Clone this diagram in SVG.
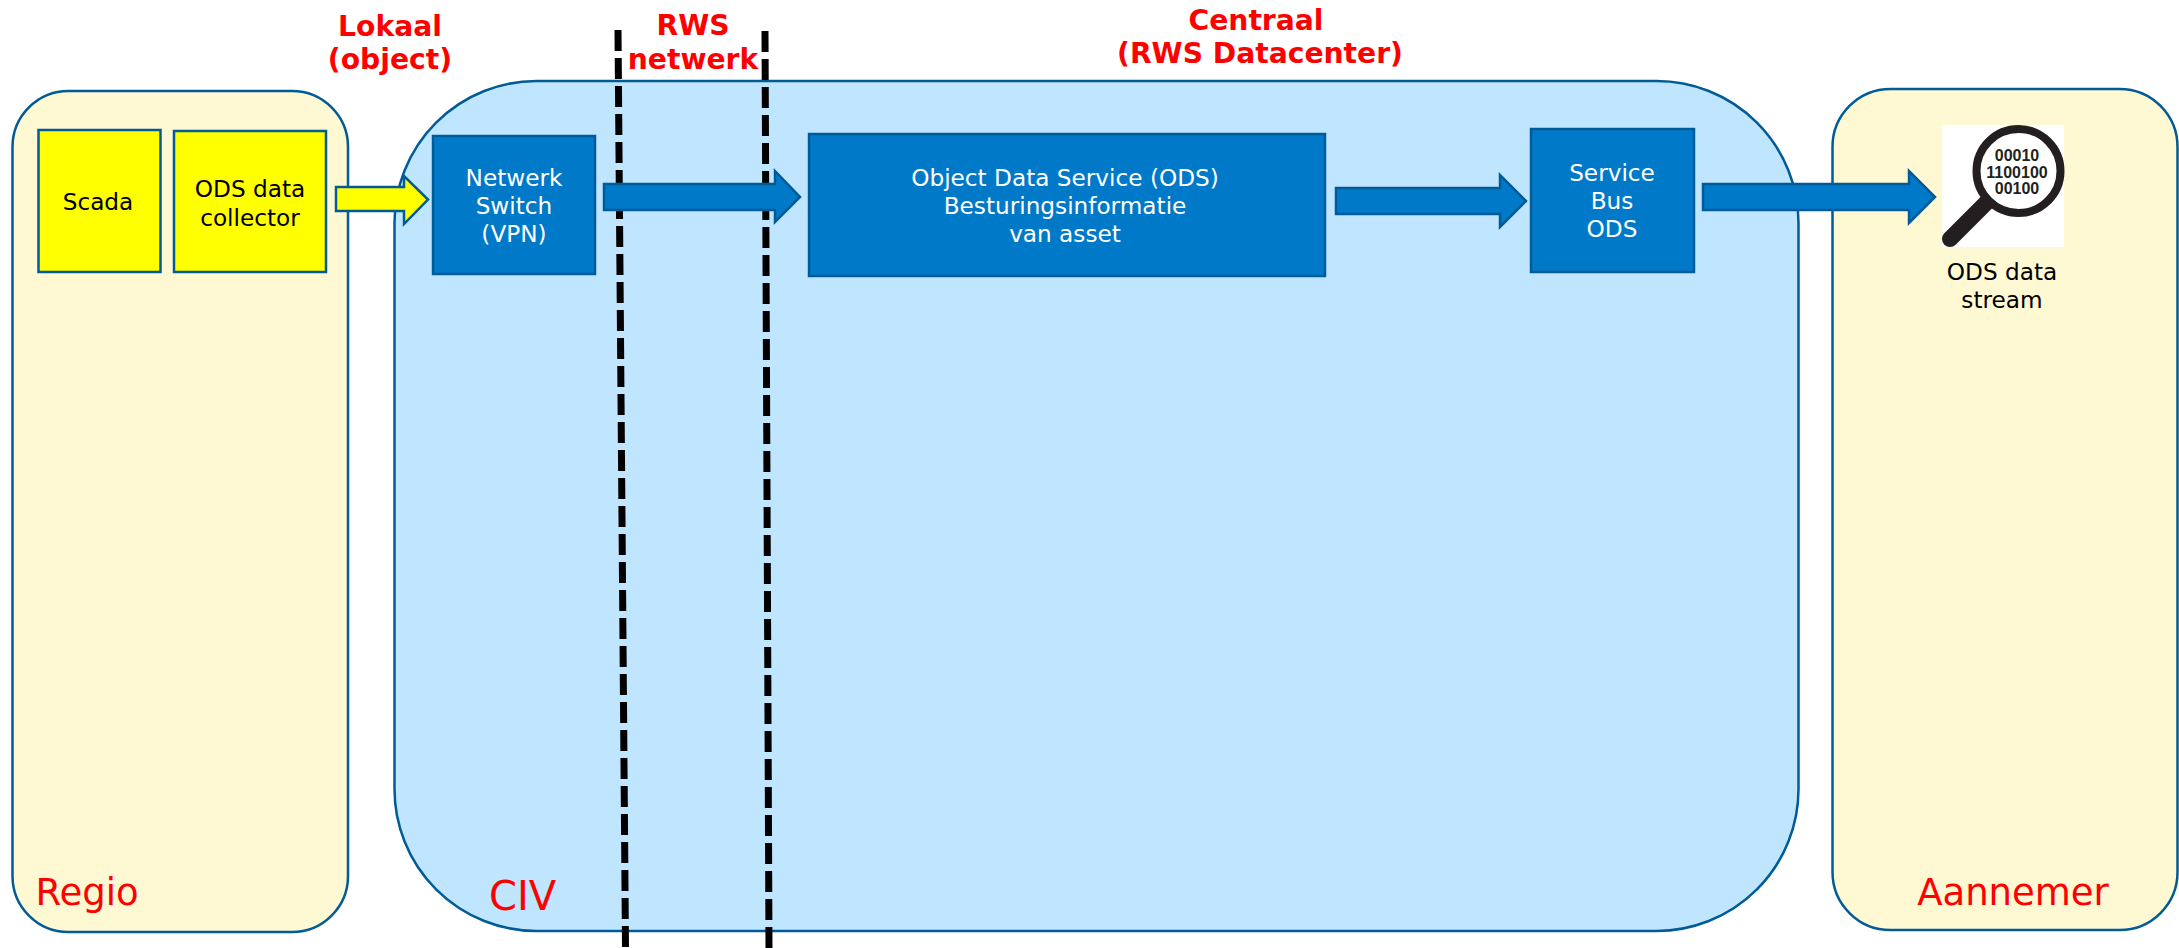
<svg xmlns="http://www.w3.org/2000/svg" width="2179" height="948" viewBox="0 0 2179 948">
<style>
text{font-family:"DejaVu Sans",Verdana,sans-serif;text-anchor:middle}
.zone{stroke:#005b96;stroke-width:2.5}
.cream{fill:#fef8d3}
.sky{fill:#c0e6ff}
.blue{fill:#0079c9;stroke:#005b96;stroke-width:2.5}
.yel{fill:#ffff00;stroke:#005b96;stroke-width:2.5}
.w{fill:#fff;font-size:23.2px}
.k{fill:#000;font-size:23.2px}
.rb{fill:#f00;font-size:28.200px;font-weight:bold}
.r{fill:#f00;font-size:37px}
.dash{stroke:#000;stroke-width:7;stroke-dasharray:21 7;fill:none}
.bin{fill:#231f20;font-family:"Liberation Sans",Arial,sans-serif;font-size:16px;font-weight:bold}
</style>
<g id="zone-regio"><rect class="zone cream" x="12.500" y="91" width="335.500" height="841" rx="56" ry="56"/><text class="r" x="87" y="905">Regio</text></g>
<g id="zone-civ"><rect class="zone sky" x="394.500" y="81" width="1404" height="850" rx="142" ry="142"/><text class="r" x="522.500" y="910" style="font-size:40px">CIV</text></g>
<g id="zone-aannemer"><rect class="zone cream" x="1832.500" y="89" width="345" height="841" rx="58" ry="58"/><text class="r" x="2013" y="905">Aannemer</text></g>
<g id="node-scada"><rect class="yel" x="38.500" y="130" width="122" height="142"/><text class="k" x="98" y="210">Scada</text></g>
<g id="node-collector"><rect class="yel" x="174" y="131" width="152" height="141"/><text class="k" x="250" y="197">ODS data</text><text class="k" x="250" y="226">collector</text></g>
<g id="node-switch"><rect class="blue" x="433" y="136" width="162" height="138"/><text class="w" x="514" y="186">Netwerk</text><text class="w" x="514" y="214">Switch</text><text class="w" x="514" y="242">(VPN)</text></g>
<g id="node-ods"><rect class="blue" x="809" y="134" width="516" height="142"/><text class="w" x="1065" y="186">Object Data Service (ODS)</text><text class="w" x="1065" y="214">Besturingsinformatie</text><text class="w" x="1065" y="242">van asset</text></g>
<g id="node-bus"><rect class="blue" x="1531" y="129" width="163" height="143"/><text class="w" x="1612" y="181">Service</text><text class="w" x="1612" y="209">Bus</text><text class="w" x="1612" y="237">ODS</text></g>
<g id="node-stream"><rect x="1942" y="125" width="122" height="122" fill="#fff"/><path d="M1986 203L1950 239" fill="none" stroke="#231f20" stroke-width="16" stroke-linecap="round"/><circle cx="2018.500" cy="171" r="42" fill="#fff" stroke="#231f20" stroke-width="8"/><text class="bin" x="2017" y="161">00010</text><text class="bin" x="2017" y="178">1100100</text><text class="bin" x="2017" y="194">00100</text><text class="k" x="2002" y="280">ODS data</text><text class="k" x="2002" y="308">stream</text></g>
<g id="labels"><text class="rb" x="390" y="36">Lokaal</text><text class="rb" x="390" y="69">(object)</text><text class="rb" x="693" y="35">RWS</text><text class="rb" x="693" y="69">netwerk</text><text class="rb" x="1256" y="30">Centraal</text><text class="rb" x="1260" y="63">(RWS Datacenter)</text></g>
<g id="connectors"><path class="dash" d="M618 30L625.500 948"/><path class="dash" d="M765 31L769 948"/>
<path class="yel" d="M336 187H404V176L428 199.500L404 224V211H336Z"/>
<path class="blue" d="M604 184H775V171L800 197L775 222V210H604Z"/>
<path class="blue" d="M1336 188H1500V175L1526 201L1500 227V214H1336Z"/>
<path class="blue" d="M1703 184H1909V171L1935 197L1909 223V210H1703Z"/></g>
</svg>
